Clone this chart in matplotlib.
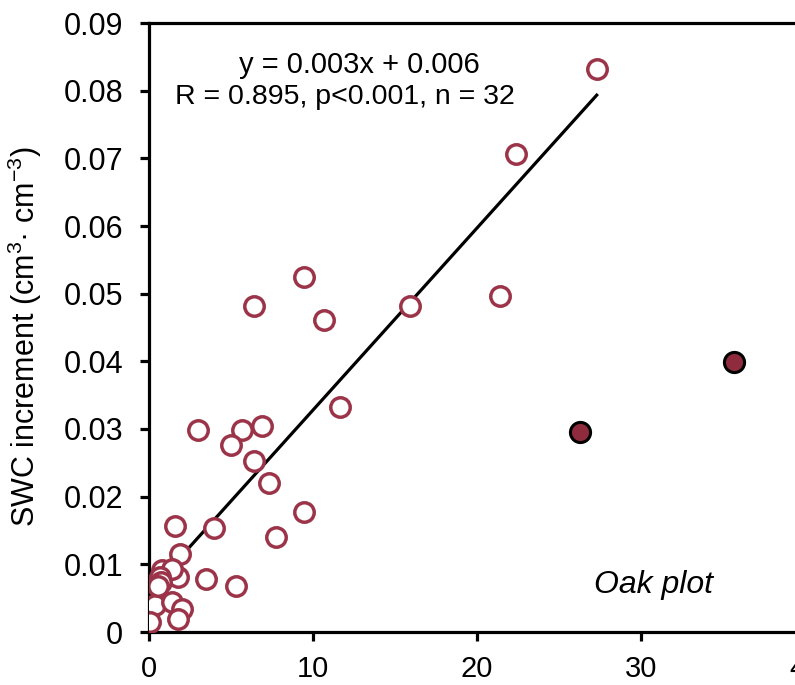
import numpy as np
import matplotlib
matplotlib.use("Agg")
import matplotlib.pyplot as plt

plt.rcParams['font.family'] = ['Liberation Sans', 'DejaVu Sans']
plt.rcParams['mathtext.fontset'] = 'custom'
plt.rcParams['mathtext.rm'] = 'Liberation Sans'
plt.rcParams['mathtext.it'] = 'Liberation Sans:italic'

# open circles: points used in the regression
open_x = [27.3, 22.4, 21.4, 15.9, 11.65, 10.7, 9.45, 6.4,
          3.0, 5.65, 6.87, 4.98, 6.4, 7.34, 9.47, 7.74, 3.96, 1.59,
          1.89, 3.46, 5.3, 1.79, 0.81, 1.38, 0.67, 0.73, 0.37, 1.38, 2.03, 0.06, 1.79, 0.55]
open_y = [0.0832, 0.0707, 0.0497, 0.0482, 0.0333, 0.0461, 0.0525, 0.0482,
          0.0299, 0.0299, 0.0305, 0.0277, 0.0253, 0.0220, 0.0178, 0.0140, 0.0153, 0.0157,
          0.0116, 0.0078, 0.0068, 0.0082, 0.0092, 0.0093, 0.0082, 0.0074, 0.0040, 0.0045, 0.0034, 0.0015, 0.0019, 0.0068]

# filled circles: excluded points
fill_x = [26.3, 35.7]
fill_y = [0.0295, 0.0399]

fit_slope = 0.00269
fit_intercept = 0.0059
fit_range = [1.9, 27.3]

xticks = [0, 10, 20, 30, 40]
yticks = [0, 0.01, 0.02, 0.03, 0.04, 0.05, 0.06, 0.07, 0.08, 0.09]
ytick_labels = ['0', '0.01', '0.02', '0.03', '0.04', '0.05', '0.06', '0.07', '0.08', '0.09']

W, H = 795, 685
fig = plt.figure(figsize=(W/100, H/100), dpi=100)
ax = fig.add_axes([149/W, 53/H, 656/W, 609/H])

lx = np.array(fit_range)
ax.plot(lx, fit_slope*lx + fit_intercept, color='black', lw=2.3, zorder=2)

ax.plot(open_x, open_y, 'o', ms=14, mfc='white', mec='#9b3448', mew=2.5, zorder=3,
        linestyle='none')
ax.plot(fill_x, fill_y, 'o', ms=14.5, mfc='#8e2b3d', mec='black', mew=2.2, zorder=3,
        linestyle='none')

ax.set_xlim(0, 40)
ax.set_ylim(0, 0.09)
ax.set_xticks(xticks)
ax.set_yticks(yticks)
ax.set_yticklabels(ytick_labels)
ax.set_xticklabels([str(t) for t in xticks], family=['Liberation Sans Narrow', 'Liberation Sans'])

for s in ax.spines.values():
    s.set_linewidth(2.3)
ax.tick_params(axis='both', direction='out', length=6.5, width=2.3)
ax.tick_params(axis='y', pad=12, labelsize=22)
ax.tick_params(axis='x', pad=10, labelsize=21)

ax.set_ylabel('SWC increment (cm$^{3}$· cm$^{-3}$)', fontsize=22)
ax.yaxis.set_label_coords(-0.16, 0.485)

# texts placed in pixel coordinates of the figure
ax.text(359/W, 1 - 65/H, 'y = 0.003x + 0.006', transform=fig.transFigure,
        fontsize=21, ha='center', va='center')
ax.text(345/W, 1 - 97/H, 'R = 0.895, p<0.001, n = 32', transform=fig.transFigure,
        fontsize=20.5, ha='center', va='center')
ax.text(654/W, 1 - 585/H, 'Oak plot', transform=fig.transFigure,
        fontsize=23, style='italic', ha='center', va='center')

fig.savefig('out.png', dpi=100)
